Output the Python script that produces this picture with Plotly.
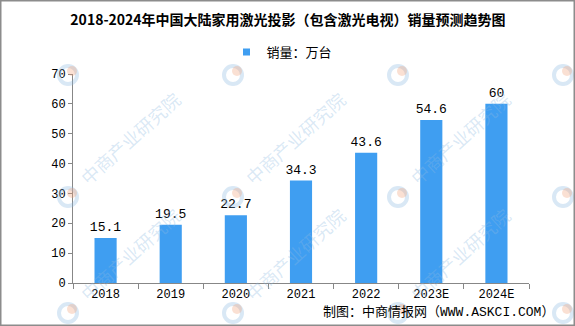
import plotly.graph_objects as go

# Data
years = ["2018", "2019", "2020", "2021", "2022", "2023E", "2024E"]
sales = [15.1, 19.5, 22.7, 34.3, 43.6, 54.6, 60]
title_text = "2018-2024年中国大陆家用激光投影（包含激光电视）销量预测趋势图"
series_name = "销量：万台"
source_text = "制图：中商情报网（WWW.ASKCI.COM）"
watermark_text = "中商产业研究院"

W, H = 575, 326
L, R, T, B = 73, 46, 74, 43
PW, PH = W - L - R, H - T - B

def px_x(x):
    return (x - L) / PW

def px_y(y):
    return (H - B - y) / PH

NUM_FONT = "Liberation Mono, Noto Sans CJK SC, sans-serif"
CJK_FONT = "Noto Sans CJK SC, sans-serif"
BAR_COLOR = "#3F9EF1"
AXIS_COLOR = "#878787"
WM_BLUE = "rgba(140,185,225,0.33)"
WM_ORANGE = "rgba(240,160,120,0.33)"

fig = go.Figure()
fig.add_trace(go.Bar(
    x=years,
    y=sales,
    name=series_name,
    marker=dict(color=BAR_COLOR, line=dict(width=0)),
    text=[f"{v:g}" for v in sales],
    textposition="outside",
    constraintext="none",
    cliponaxis=False,
    textfont=dict(family=NUM_FONT, size=13, color="#000000"),
    showlegend=False,
))
# legend entry with a small square swatch
fig.add_trace(go.Scatter(
    x=[None], y=[None], mode="markers", name=series_name,
    marker=dict(symbol="square", size=7, color=BAR_COLOR),
    showlegend=True, hoverinfo="skip",
))

# watermark grid: small logo ring plus diagonal text
shapes = []
annotations = []
logo_xs = [68, 233, 398, 563]
logo_ys = [75, 197, 313]
for ly in logo_ys:
    for lx in logo_xs:
        r = 9
        shapes.append(dict(
            type="circle", xref="paper", yref="paper",
            x0=px_x(lx - r), x1=px_x(lx + r), y0=px_y(ly + r), y1=px_y(ly - r),
            line=dict(color=WM_BLUE, width=4),
            fillcolor="rgba(0,0,0,0)", layer="above",
        ))
        shapes.append(dict(
            type="circle", xref="paper", yref="paper",
            x0=px_x(lx - 1), x1=px_x(lx + 9), y0=px_y(ly + 1), y1=px_y(ly - 9),
            line=dict(width=0), fillcolor=WM_ORANGE, layer="above",
        ))
        if ly == logo_ys[0] or lx == logo_xs[-1]:
            continue
        annotations.append(dict(
            text=watermark_text, xref="paper", yref="paper",
            x=px_x(lx + 62), y=px_y(ly - 59),
            xanchor="center", yanchor="middle", showarrow=False,
            textangle=-42,
            font=dict(family=CJK_FONT, size=18, color=WM_BLUE),
        ))

# outer frame
shapes.append(dict(
    type="rect", xref="paper", yref="paper",
    x0=px_x(0.75), x1=px_x(W - 0.75), y0=px_y(H - 0.75), y1=px_y(0.75),
    line=dict(color="#8C8C8C", width=1.5), fillcolor="rgba(0,0,0,0)", layer="above",
))

annotations.append(dict(
    text=source_text, xref="paper", yref="paper",
    x=px_x(556), y=px_y(312), xanchor="right", yanchor="middle",
    showarrow=False, font=dict(family=NUM_FONT, size=13, color="#000000"),
))

fig.update_layout(
    width=W, height=H,
    margin=dict(l=L, r=R, t=T, b=B, pad=0),
    paper_bgcolor="white", plot_bgcolor="white",
    title=dict(
        text=f"<b>{title_text}</b>",
        xref="container", x=288 / W, xanchor="center",
        yref="container", y=1 - 20 / H, yanchor="middle",
        font=dict(family=CJK_FONT, size=14, color="#000000"),
    ),
    legend=dict(
        orientation="h", x=px_x(282), xanchor="center",
        y=px_y(52), yanchor="middle",
        font=dict(family=CJK_FONT, size=13, color="#000000"),
        itemwidth=30, bgcolor="rgba(0,0,0,0)",
    ),
    bargap=0.66,
    xaxis=dict(
        type="category", showline=True, linecolor=AXIS_COLOR, linewidth=1,
        ticks="outside", tickson="boundaries", ticklen=5, tickcolor=AXIS_COLOR,
        tickfont=dict(family=NUM_FONT, size=12, color="#000000"),
        showgrid=False, zeroline=False,
    ),
    yaxis=dict(
        range=[0, 70], dtick=10, showline=True, linecolor=AXIS_COLOR, linewidth=1,
        ticks="outside", ticklen=4, tickcolor=AXIS_COLOR,
        tickfont=dict(family=NUM_FONT, size=12, color="#000000"),
        showgrid=False, zeroline=False,
    ),
    shapes=shapes,
    annotations=annotations,
)

fig.write_html("out.html")
